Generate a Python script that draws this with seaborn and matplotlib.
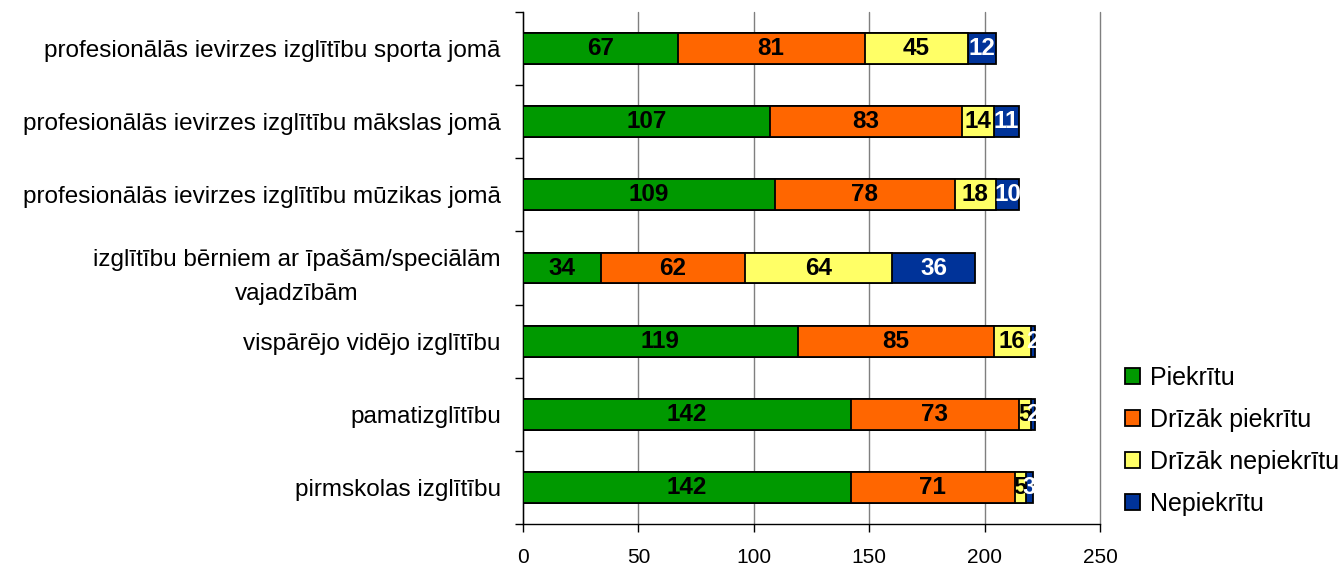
import numpy as np
import pandas as pd
import matplotlib
matplotlib.use("Agg")
import matplotlib.pyplot as plt
import seaborn as sns
from matplotlib.patches import Patch
from matplotlib.ticker import FixedLocator

categories = [
    "profesionālās ievirzes izglītību sporta jomā",
    "profesionālās ievirzes izglītību mākslas jomā",
    "profesionālās ievirzes izglītību mūzikas jomā",
    "izglītību bērniem ar īpašām/speciālām\nvajadzībām",
    "vispārējo vidējo izglītību",
    "pamatizglītību",
    "pirmskolas izglītību",
]
piekritu = [67, 107, 109, 34, 119, 142, 142]
drizak_piekritu = [81, 83, 78, 62, 85, 73, 71]
drizak_nepiekritu = [45, 14, 18, 64, 16, 5, 5]
nepiekritu = [12, 11, 10, 36, 2, 2, 3]
series_names = ["Piekrītu", "Drīzāk piekrītu", "Drīzāk nepiekrītu", "Nepiekrītu"]
colors = ["#009900", "#FF6600", "#FFFF66", "#003399"]
label_colors = ["black", "black", "black", "white"]
x_ticks = [0, 50, 100, 150, 200, 250]

sns.set_theme(style="white")
plt.rcParams["font.family"] = ["Liberation Sans", "DejaVu Sans"]
plt.rcParams["text.color"] = "black"
plt.rcParams["xtick.color"] = "black"
plt.rcParams["ytick.color"] = "black"
plt.rcParams["xtick.labelcolor"] = "black"
plt.rcParams["ytick.labelcolor"] = "black"

fig, ax = plt.subplots(figsize=(13.44, 5.64), dpi=100)
fig.subplots_adjust(left=523 / 1344, right=1100 / 1344, top=1 - 12 / 564, bottom=1 - 524 / 564)

series = [piekritu, drizak_piekritu, drizak_nepiekritu, nepiekritu]
cum = np.cumsum(np.array(series), axis=0)

for i in reversed(range(len(series))):
    df = pd.DataFrame({"cat": categories, "v": cum[i]})
    sns.barplot(data=df, x="v", y="cat", orient="h", color=colors[i], saturation=1,
                edgecolor="black", linewidth=1.3, width=0.42, ax=ax, zorder=3)

for i, vals in enumerate(series):
    for j, v in enumerate(vals):
        ax.text(cum[i][j] - v / 2, j, str(v), ha="center", va="center",
                fontsize=17.5, fontweight="bold", color=label_colors[i], zorder=5)

ax.set_xlim(0, 250)
ax.set_ylim(6.5, -0.5)
ax.set_xticks(x_ticks)
ax.set_xlabel("")
ax.set_ylabel("")
ax.xaxis.grid(True, color="#7f7f7f", linewidth=1)
for gl in ax.get_xgridlines():
    gl.set_clip_on(False)
ax.yaxis.grid(False)
ax.set_axisbelow(True)
for s in ["top", "right"]:
    ax.spines[s].set_visible(False)
for s in ["left", "bottom"]:
    ax.spines[s].set_color("black")
    ax.spines[s].set_linewidth(1)

ax.tick_params(axis="x", which="major", length=6, color="black", width=1,
               direction="out", bottom=True, labelsize=15, pad=11)
ax.tick_params(axis="y", which="major", length=0, labelsize=17.5, pad=16)
ax.yaxis.set_minor_locator(FixedLocator(np.arange(-0.5, 7, 1)))
ax.tick_params(axis="y", which="minor", length=6, color="black", width=1,
               direction="out", left=True)
for t in ax.get_yticklabels():
    t.set_multialignment("center")
    t.set_linespacing(1.75)

handles = [Patch(facecolor=c, edgecolor="black", linewidth=1.3) for c in colors]
fig.legend(handles, series_names, loc="upper left",
           bbox_to_anchor=(1125 / 1344, 1 - 366 / 564), frameon=False, fontsize=18,
           handlelength=0.58, handleheight=0.58, handletextpad=0.4,
           labelspacing=0.72, borderaxespad=0, borderpad=0)

fig.savefig("out.png", dpi=100)
